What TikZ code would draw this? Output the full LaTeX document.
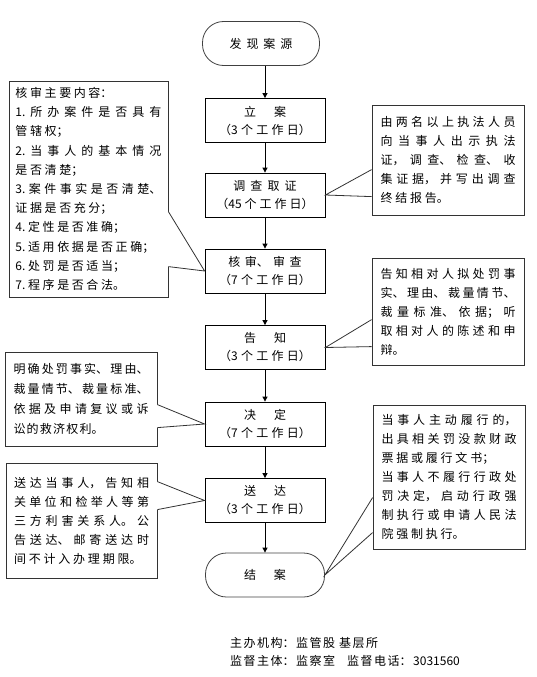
\documentclass[tikz,border=0pt]{standalone}
\usepackage{fontspec}
\setmainfont{Noto Sans CJK SC}
\XeTeXlinebreaklocale "zh"
\XeTeXlinebreakskip=0pt plus 2pt
\usetikzlibrary{arrows.meta,positioning,calc}
% spacing between characters
\newcommand{\charsep}[1]{\XeTeXlinebreakskip=#1 plus 3pt\relax}
\newcommand{\termfont}{\charsep{2.5pt}\fontsize{12}{19}\selectfont}
\newcommand{\stagefont}{\charsep{2pt}\fontsize{12}{18}\selectfont}
\newcommand{\notefont}{\charsep{2.8pt}\fontsize{12}{19}\selectfont}
\newcommand{\itemfont}{\charsep{2.6pt}\fontsize{12}{19.2}\selectfont}
\newcommand{\tightfont}{\charsep{1.2pt}\fontsize{12}{20}\selectfont}
\newcommand{\footfont}{\charsep{1.5pt}\fontsize{12}{14}\selectfont}

\begin{document}
\begin{tikzpicture}[x=1pt, y=-1pt]
    % Define styles
    \tikzstyle{terminal} = [rectangle, draw=black!75, line width=0.8pt, rounded corners=21pt, minimum width=117pt, minimum height=44pt, text width=100pt, align=center, font=\termfont]
    \tikzstyle{stage} = [rectangle, draw=black, line width=0.8pt, inner xsep=0pt, minimum width=120pt, minimum height=44pt, text width=112pt, align=center, font=\stagefont]
    \tikzstyle{note} = [rectangle, draw=black!80, line width=0.8pt, fill=white, inner sep=0pt, minimum width=152pt, text width=135pt, align=justify, font=\notefont]
    \tikzstyle{footer} = [anchor=west, inner sep=0pt, text width=260pt, align=left, font=\footfont]
    \tikzstyle{flow} = [-{Triangle[length=5pt,width=5pt]}, line width=0.8pt]
    \tikzstyle{tail} = [draw=black!80, line width=0.8pt]
    \tikzstyle{wipe} = [draw=white, line width=1.4pt]

    \useasboundingbox (0,0) rectangle (536,677);

    % Procedure stages
    \node[terminal] (faxian) at (261,43.5) {发现案源};
    \node[stage] (lian) at (265,120.5) {立\quad\enspace 案\\（3个工作日）};
    \node[stage] (diaocha) at (265,195) {调查取证\\（45个工作日）};
    \node[stage] (shencha) at (265,271) {核审、审查\\（7个工作日）};
    \node[stage] (gaozhi) at (265,347.5) {告\quad\enspace 知\\（3个工作日）};
    \node[stage] (jueding) at (265,424) {决\quad\enspace 定\\（7个工作日）};
    \node[stage] (songda) at (265,500.5) {送\quad\enspace 达\\（3个工作日）};
    \node[terminal, minimum width=119pt] (jiean) at (265,575) {结\quad\enspace 案};

    % Flow
    \draw[flow] (faxian.south -| lian.north) -- (lian.north);
    \draw[flow] (lian) -- (diaocha);
    \draw[flow] (diaocha) -- (shencha);
    \draw[flow] (shencha) -- (gaozhi);
    \draw[flow] (gaozhi) -- (jueding);
    \draw[flow] (jueding) -- (songda);
    \draw[flow] (songda) -- (jiean);

    % Notes
    \node[note, minimum width=159pt, minimum height=216pt, text width=146pt, font=\itemfont] (neirong) at (88.5,189) {核审主要内容：\\1.所办案件是否具有\linebreak 管辖权；\\2.当事人的基本情况\linebreak 是否清楚；\\3.案件事实是否清楚、\linebreak 证据是否充分；\\4.定性是否准确；\\5.适用依据是否正确；\\6.处罚是否适当；\\7.程序是否合法。};
    \node[note, minimum height=110pt] (renyuan) at (448,160) {由两名以上执法人员\linebreak 向当事人出示执法\linebreak 证，调查、检查、收\linebreak 集证据，并写出调查\linebreak 终结报告。};
    \node[note, minimum height=107pt] (chenshu) at (448,311.5) {告知相对人拟处罚事\linebreak {\charsep{0.5pt}实、理由、裁量情节、}\linebreak 裁量标准、依据；听\linebreak 取相对人的陈述和申\linebreak 辩。};
    \node[note, minimum height=94pt, font=\tightfont] (jiuji) at (81,399) {明确处罚事实、理由、\linebreak 裁量情节、裁量标准、\linebreak 依据及申请复议或诉\linebreak 讼的救济权利。};
    \node[note, minimum width=151pt, minimum height=115pt] (gonggao) at (81.5,520.5) {送达当事人，告知相\linebreak 关单位和检举人等第\linebreak 三方利害关系人。公\linebreak 告送达、邮寄送达时\linebreak 间不计入办理期限。};
    \node[note, minimum height=144pt] (lvxing) at (449,477) {当事人主动履行的，\linebreak 出具相关罚没款财政\linebreak 票据或履行文书；\\当事人不履行行政处\linebreak 罚决定，启动行政强\linebreak 制执行或申请人民法\linebreak 院强制执行。};

    % Callout tails
    \fill[white] ([yshift=-131pt]neirong.north east) -- (shencha.west) -- ([yshift=-186pt]neirong.north east) -- cycle;
    \draw[wipe] ([yshift=-131pt]neirong.north east) -- ([yshift=-186pt]neirong.north east);
    \draw[tail] ([yshift=-131pt]neirong.north east) -- (shencha.west) -- ([yshift=-186pt]neirong.north east);

    \fill[white] ([yshift=-65pt]renyuan.north west) -- (diaocha.east) -- ([yshift=-92pt]renyuan.north west) -- cycle;
    \draw[wipe] ([yshift=-65pt]renyuan.north west) -- ([yshift=-92pt]renyuan.north west);
    \draw[tail] ([yshift=-65pt]renyuan.north west) -- (diaocha.east) -- ([yshift=-92pt]renyuan.north west);

    \fill[white] ([yshift=-62pt]chenshu.north west) -- (gaozhi.east) -- ([yshift=-89pt]chenshu.north west) -- cycle;
    \draw[wipe] ([yshift=-62pt]chenshu.north west) -- ([yshift=-89pt]chenshu.north west);
    \draw[tail] ([yshift=-62pt]chenshu.north west) -- (gaozhi.east) -- ([yshift=-89pt]chenshu.north west);

    \fill[white] ([yshift=-53pt]jiuji.north east) -- (jueding.west) -- ([yshift=-76pt]jiuji.north east) -- cycle;
    \draw[wipe] ([yshift=-53pt]jiuji.north east) -- ([yshift=-76pt]jiuji.north east);
    \draw[tail] ([yshift=-53pt]jiuji.north east) -- (jueding.west) -- ([yshift=-76pt]jiuji.north east);

    \fill[white] ([yshift=-19pt]gonggao.north east) -- (songda.west) -- ([yshift=-47pt]gonggao.north east) -- cycle;
    \draw[wipe] ([yshift=-19pt]gonggao.north east) -- ([yshift=-47pt]gonggao.north east);
    \draw[tail] ([yshift=-19pt]gonggao.north east) -- (songda.west) -- ([yshift=-47pt]gonggao.north east);

    \fill[white] ([yshift=-93pt]lvxing.north west) -- (jiean.east) -- ([yshift=-128pt]lvxing.north west) -- cycle;
    \draw[wipe] ([yshift=-93pt]lvxing.north west) -- ([yshift=-128pt]lvxing.north west);
    \draw[tail] ([yshift=-93pt]lvxing.north west) -- (jiean.east) -- ([yshift=-128pt]lvxing.north west);

    % Footer
    \node[footer] (zhuban) at (230,643) {主办机构：监管股 基层所};
    \node[footer] (jiandu) at (230,661) {监督主体：监察室\quad 监督电话：3031560};
\end{tikzpicture}
\end{document}
